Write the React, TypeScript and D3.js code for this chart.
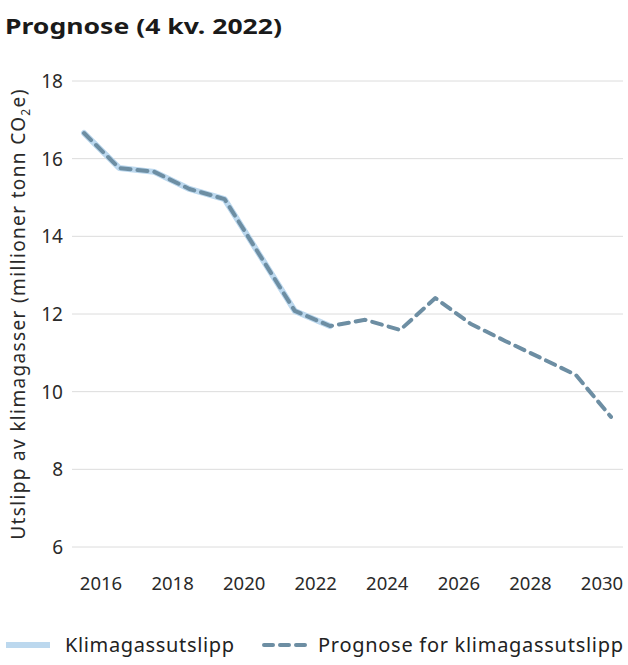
import React from 'react';
import * as d3 from 'd3';

const years = [2015, 2016, 2017, 2018, 2019, 2020, 2021, 2022, 2023, 2024, 2025, 2026, 2027, 2028, 2029, 2030];
// Historical emissions (solid) up to 2022
const historic = [16.66, 15.76, 15.66, 15.22, 14.96, 13.52, 12.08, 11.69];
// Projection (dashed), whole period
const forecast = [16.66, 15.76, 15.66, 15.22, 14.96, 13.52, 12.08, 11.69, 11.85, 11.59, 12.41, 11.75, 11.3, 10.87, 10.43, 9.35];
const yTicks = [6, 8, 10, 12, 14, 16, 18];
const xTickLabels = [2016, 2018, 2020, 2022, 2024, 2026, 2028, 2030];

const W = 628;
const H = 665;
const font = '"Noto Sans", sans-serif';

export default function App() {
    const x = d3.scaleLinear().domain([2015, 2030]).range([84, 611]);
    // labels sit a little left of the data points in the original
    const xLabel = d3.scaleLinear().domain([2016, 2030]).range([101, 602]);
    const y = d3.scaleLinear().domain([6, 18]).range([547, 81]);

    const line = d3.line<number>()
        .x((_, i) => x(years[i]))
        .y(d => y(d));

    return (
        <svg width={W} height={H} style={{ position: 'absolute', left: 0, top: 0, background: '#fff' }}>
            <text x={5} y={34} fontFamily={font} fontWeight={700} fontSize={22} fill="#1a1a1a"
                textLength={277} lengthAdjust="spacingAndGlyphs">
                Prognose (4 kv. 2022)
            </text>

            {/* Grid */}
            {yTicks.map(t => (
                <g key={t}>
                    <line x1={72} x2={623} y1={y(t)} y2={y(t)} stroke="#dcdcdc" strokeWidth={1} />
                    <text x={63} y={y(t) + 7} textAnchor="end" fontFamily={font} fontSize={19} fill="#2a2a2a">
                        {t}
                    </text>
                </g>
            ))}

            {xTickLabels.map(t => (
                <text key={t} x={xLabel(t)} y={590} textAnchor="middle" fontFamily={font} fontSize={18.5} fill="#2a2a2a">
                    {t}
                </text>
            ))}

            <text
                transform={`translate(25, ${(y(6) + y(18)) / 2}) rotate(-90)`}
                textAnchor="middle"
                fontFamily={font}
                fontSize={19}
                letterSpacing={1.35}
                fill="#2a2a2a"
            >
                Utslipp av klimagasser (millioner tonn CO<tspan fontSize={12} dy={5}>2</tspan><tspan dy={-5}>e)</tspan>
            </text>

            <path d={line(historic) || ''} fill="none" stroke="#bcd8ee" strokeWidth={6} strokeLinejoin="round" strokeLinecap="round" />
            <path d={line(forecast) || ''} fill="none" stroke="#6d8ea3" strokeWidth={4} strokeDasharray="10 7" strokeLinejoin="round" strokeLinecap="round" />

            {/* Legend */}
            <g>
                <line x1={6} x2={50} y1={645} y2={645} stroke="#bcd8ee" strokeWidth={6} />
                <text x={65} y={652} fontFamily={font} fontSize={20} fill="#222"
                    textLength={169} lengthAdjust="spacing">Klimagassutslipp</text>
                <line x1={264} x2={306} y1={645} y2={645} stroke="#6d8ea3" strokeWidth={4} strokeDasharray="9 7" strokeLinecap="round" />
                <text x={318} y={652} fontFamily={font} fontSize={20} fill="#222"
                    textLength={305} lengthAdjust="spacing">Prognose for klimagassutslipp</text>
            </g>
        </svg>
    );
}
